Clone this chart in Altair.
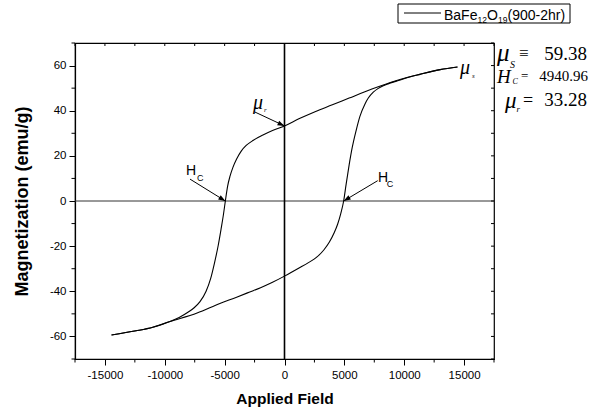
import math
import altair as alt
import pandas as pd

# ---------------- data ----------------
# upper branch (field sweeping down from +Hmax)
up_H = [14450, 13000, 11300, 10300, 9300, 7300, 5400, 4000, 2600, 1200, 0,
        -1000, -1800, -2600, -3200, -3600, -4000, -4300, -4550, -4750, -4941,
        -5100, -5300, -5530, -5850, -6165, -6550, -7059, -7550, -8036, -8800,
        -9565, -11000, -12400, -14450]
up_M = [59.38, 58.2, 56.1, 54.8, 53.3, 49.6, 45.6, 42.6, 39.7, 36.4, 33.28,
        31.2, 29.2, 26.9, 24.6, 22.2, 18.6, 15.0, 11.0, 6.6, 0.0,
        -6.0, -12.5, -19.5, -27.5, -34.3, -40.0, -44.6, -47.3, -49.2, -51.6,
        -53.4, -55.9, -57.5, -59.38]
# lower branch (field sweeping up from -Hmax)
low_H = [-14450, -12400, -11000, -9565, -7300, -5400, -4000, -2900, -2000, -1000, 0,
         1250, 2000, 2689, 3300, 3750, 4150, 4444, 4700, 4941, 5150, 5400, 5650, 5972,
         6300, 6724, 7000, 7417, 7800, 8252, 8700, 9300, 10300, 11300, 13000, 14450]
low_M = [-59.38, -57.5, -55.9, -53.4, -49.6, -45.4, -42.6, -40.3, -38.4, -36.0, -33.28,
         -29.6, -27.3, -24.9, -21.6, -18.2, -14.1, -10.2, -5.6, 0.0, 7.5, 16.0, 23.5, 31.0,
         37.5, 43.0, 45.6, 48.2, 49.8, 51.1, 52.0, 53.0, 54.7, 56.1, 58.2, 59.38]

x_ticks = [-15000, -10000, -5000, 0, 5000, 10000, 15000]
y_ticks = [-60, -40, -20, 0, 20, 40, 60]
x_minor = [-17500, -12500, -7500, -2500, 2500, 7500, 12500, 17500]
y_minor = [-70, -50, -30, -10, 10, 30, 50, 70]
x_all = [-17500, -15000, -12500, -10000, -7500, -5000, -2500, 0,
         2500, 5000, 7500, 10000, 12500, 15000, 17500]
y_all = [-70, -60, -50, -40, -30, -20, -10, 0, 10, 20, 30, 40, 50, 60, 70]

# annotation arrows (tail -> tip) in data units
arrow_tail_H = [-2465, -7894, 7785]
arrow_tail_M = [39.4, 9.7, 9.0]
arrow_tip_H = [0, -4941, 4941]
arrow_tip_M = [33.28, 0, 0]

# in-plot labels (data units)
mu_lbl_H = [14659, -2632]
mu_lbl_M = [56.3, 40.8]
mu_sub_txt = ["s", "r"]
mu_sub_H = [15662, -1713]
mu_sub_M = [54.5, 39.4]
hc_lbl_H = [-8228, 7810]
hc_lbl_M = [11.5, 8.4]
hc_sub_H = [-7309, 8547]
hc_sub_M = [8.9, 6.2]

X_DOMAIN = [-17500, 17500]
Y_DOMAIN = [-70, 70]
W, HGT = 419, 316
SANS = "Liberation Sans"
SERIF = "Liberation Serif"

# ---------------- scales / axes ----------------
xscale = alt.Scale(domain=X_DOMAIN, nice=False, zero=False)
yscale = alt.Scale(domain=Y_DOMAIN, nice=False, zero=False)
xaxis = alt.Axis(values=x_ticks, title="Applied Field", grid=False, tickSize=6,
                 tickColor="black", tickWidth=1, domainColor="black", domainWidth=1.2,
                 labelFont=SANS, labelFontSize=11.5, labelColor="black", labelPadding=4,
                 labelExpr="datum.value + ''", labelFlush=False,
                 titleFont=SANS, titleFontSize=15.5, titleFontWeight="bold",
                 titleColor="black", titleY=39, titleBaseline="middle")
yaxis = alt.Axis(values=y_ticks, title="Magnetization (emu/g)", grid=False, tickSize=6,
                 tickColor="black", tickWidth=1, domainColor="black", domainWidth=1.2,
                 labelFont=SANS, labelFontSize=11.5, labelColor="black", labelPadding=3,
                 labelExpr="datum.value + ''", labelFlush=False,
                 titleFont=SANS, titleFontSize=18, titleFontWeight="bold",
                 titleColor="black", titleX=-53, titleY=158, titleBaseline="middle",
                 titleAlign="center")
xe = alt.X("H:Q", scale=xscale, axis=xaxis)
ye = alt.Y("M:Q", scale=yscale, axis=yaxis)

# ---------------- layers ----------------
curve_df = pd.DataFrame({
    "H": up_H + low_H,
    "M": up_M + low_M,
    "branch": ["up"] * len(up_H) + ["low"] * len(low_H),
})
curve = alt.Chart(curve_df).mark_line(color="black", strokeWidth=1.1,
                                      interpolate="monotone").encode(
    x=xe, y=ye, detail="branch:N")

zero_df = pd.DataFrame({"H": [0], "M": [0]})
vline = alt.Chart(zero_df).mark_rule(color="black", strokeWidth=1.6).encode(x=xe)
hline = alt.Chart(zero_df).mark_rule(color="#333333", strokeWidth=1).encode(y=ye)

bot_minor = alt.Chart(pd.DataFrame({"H": x_minor})).mark_rule(
    color="black", strokeWidth=1).encode(x=xe, y=alt.value(HGT), y2=alt.value(HGT + 3.5))
left_minor = alt.Chart(pd.DataFrame({"M": y_minor})).mark_rule(
    color="black", strokeWidth=1).encode(y=ye, x=alt.value(0), x2=alt.value(-3.5))
top_in = alt.Chart(pd.DataFrame({"H": x_all})).mark_rule(
    color="black", strokeWidth=1).encode(x=xe, y=alt.value(0), y2=alt.value(3))
right_in = alt.Chart(pd.DataFrame({"M": y_all})).mark_rule(
    color="black", strokeWidth=1).encode(y=ye, x=alt.value(W), x2=alt.value(W - 3))

# arrows
ang = []
for th, tm, ph, pm in zip(arrow_tail_H, arrow_tail_M, arrow_tip_H, arrow_tip_M):
    dx = (ph - th) / (X_DOMAIN[1] - X_DOMAIN[0]) * W
    dy = -(pm - tm) / (Y_DOMAIN[1] - Y_DOMAIN[0]) * HGT
    n = math.hypot(dx, dy)
    ang.append(math.degrees(math.atan2(dx / n, -dy / n)) % 360)
arrow_df = pd.DataFrame({"H": arrow_tail_H, "M": arrow_tail_M,
                         "H2": arrow_tip_H, "M2": arrow_tip_M})
arrow_lines = alt.Chart(arrow_df).mark_rule(color="black", strokeWidth=1).encode(
    x=xe, y=ye, x2="H2:Q", y2="M2:Q")
head_df = pd.DataFrame({"H": arrow_tip_H, "M": arrow_tip_M, "angle": ang})
heads = alt.Chart(head_df).mark_point(shape="M0,0L-0.7,2L0.7,2Z", filled=True,
                                      size=49, color="black", opacity=1).encode(
    x=xe, y=ye, angle=alt.Angle("angle:Q", scale=None))

# in-plot labels
mu_df = pd.DataFrame({"H": mu_lbl_H, "M": mu_lbl_M, "t": ["\u03bc", "\u03bc"]})
mu_lbl = alt.Chart(mu_df).mark_text(align="left", baseline="alphabetic", font=SERIF,
                                    fontSize=20, fontStyle="italic", color="black").encode(
    x=xe, y=ye, text="t:N")
musub_df = pd.DataFrame({"H": mu_sub_H, "M": mu_sub_M, "t": mu_sub_txt})
mu_sub = alt.Chart(musub_df).mark_text(align="left", baseline="alphabetic", font=SERIF,
                                       fontSize=7, fontStyle="italic", color="black").encode(
    x=xe, y=ye, text="t:N")
hc_df = pd.DataFrame({"H": hc_lbl_H, "M": hc_lbl_M, "t": ["H", "H"]})
hc_lbl = alt.Chart(hc_df).mark_text(align="left", baseline="alphabetic", font=SANS,
                                    fontSize=14, color="black").encode(
    x=xe, y=ye, text="t:N")
hcs_df = pd.DataFrame({"H": hc_sub_H, "M": hc_sub_M, "t": ["C", "C"]})
hc_sub = alt.Chart(hcs_df).mark_text(align="left", baseline="alphabetic", font=SANS,
                                     fontSize=9, color="black").encode(
    x=xe, y=ye, text="t:N")


def ptext(s, px, py, font, size, style="normal", align="left"):
    return alt.Chart(pd.DataFrame({"t": [s]})).mark_text(
        align=align, baseline="alphabetic", font=font, fontSize=size,
        fontStyle=style, color="black").encode(
        x=alt.value(px), y=alt.value(py), text="t:N")


side = [
    ptext("\u03bc", 422, 18, SERIF, 25, "italic"),
    ptext("S", 435, 25, SERIF, 10, "italic"),
    ptext("\u2261", 444, 16, SERIF, 17),
    ptext("59.38", 512, 17, SERIF, 19, align="right"),
    ptext("H", 422, 40, SERIF, 19, "italic"),
    ptext("C", 437.5, 40.5, SERIF, 8, "italic"),
    ptext("=", 446, 37, SERIF, 13),
    ptext("4940.96", 513, 38, SERIF, 15, align="right"),
    ptext("\u03bc", 430, 65, SERIF, 23, "italic"),
    ptext("r", 441.5, 68.5, SERIF, 9, "italic"),
    ptext("=", 448, 63, SERIF, 18),
    ptext("33.28", 512, 63, SERIF, 19, align="right"),
]

dummy = pd.DataFrame({"a": [0]})
leg_box = alt.Chart(dummy).mark_rect(fill="white", stroke="black", strokeWidth=1).encode(
    x=alt.value(323), x2=alt.value(495), y=alt.value(-39), y2=alt.value(-20))
leg_line = alt.Chart(dummy).mark_rule(color="black", strokeWidth=1).encode(
    x=alt.value(329), x2=alt.value(366), y=alt.value(-30))
legend = [
    ptext("BaFe", 369, -23, SANS, 14),
    ptext("12", 402.5, -20, SANS, 8.5),
    ptext("O", 412, -23, SANS, 14),
    ptext("19", 423, -20, SANS, 8.5),
    ptext("(900-2hr)", 432.5, -23, SANS, 14),
]

chart = alt.layer(
    hline, vline, curve, arrow_lines, heads, mu_lbl, mu_sub, hc_lbl, hc_sub,
    bot_minor, left_minor, top_in, right_in, leg_box, leg_line, *legend, *side
).properties(
    width=W, height=HGT,
    padding={"left": 75, "top": 43, "right": 97, "bottom": 54},
    autosize=alt.AutoSizeParams(type="none"),
    background="white",
).configure_view(stroke="black", strokeWidth=1.2)

chart.save("out.html", embed_options={"renderer": "svg", "actions": False})
